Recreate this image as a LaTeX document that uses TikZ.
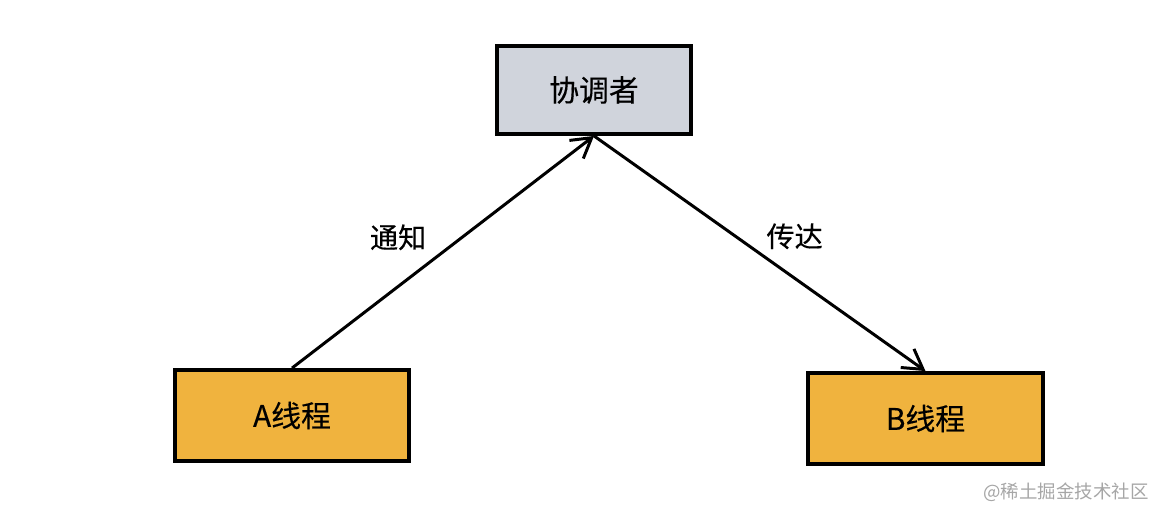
\documentclass[tikz,border=0pt]{standalone}
\usepackage{fontspec}
\newfontfamily\cjk{Noto Sans CJK SC}
\newfontfamily\cjkmed[UprightFeatures={FakeBold=0.3}]{Noto Sans CJK SC}
\usetikzlibrary{arrows.meta, positioning}
\definecolor{boxgray}{HTML}{D0D4DC}
\definecolor{boxorange}{HTML}{F0B33E}

\begin{document}
\begin{tikzpicture}[
  x=0.02cm, y=-0.02cm,
  block/.style={rectangle, draw, line width=2.2pt, font=\cjkmed\fontsize{17}{20}\selectfont, inner sep=0pt},
  arrow/.style={-{Straight Barb[length=11pt, width=13pt, line width=1.7pt]}, line width=1.7pt},
  label/.style={font=\cjkmed\fontsize{16}{19}\selectfont, inner sep=3pt},
]
\useasboundingbox (0,0) rectangle (1174,520);
% Nodes
\node[block, fill=boxgray, minimum width=3.88cm, minimum height=1.76cm] (coord) at (594,90) {协调者};
\node[block, fill=boxorange, minimum width=4.68cm, minimum height=1.82cm] (ta) at (292,415.5) {A线程};
\node[block, fill=boxorange, minimum width=4.7cm, minimum height=1.82cm] (tb) at (925.5,418.5) {B线程};

% Arrows
\draw[arrow] (ta.north) -- node[midway, above left, label, xshift=-0.2cm, yshift=-0.1cm] {通知} (coord.south);
\draw[arrow] (coord.south) -- node[midway, above right, label, yshift=-0.05cm] {传达} (tb.north);

% Watermark
\node[font=\cjk\fontsize{10.5}{12}\selectfont, text=gray!70] (mark) at (1066,492) {@稀土掘金技术社区};
\end{tikzpicture}
\end{document}
